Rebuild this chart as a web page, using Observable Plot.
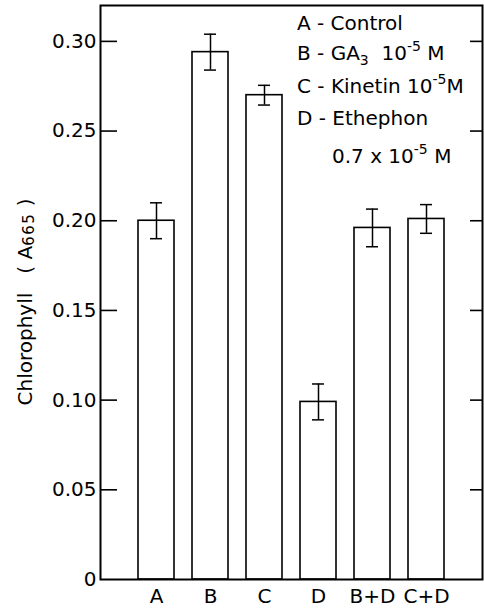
<!DOCTYPE html>
<html>
<head>
<meta charset="utf-8">
<script src="https://cdn.jsdelivr.net/npm/d3@7"></script>
<script src="https://cdn.jsdelivr.net/npm/@observablehq/plot@0.6"></script>
<style>
  html, body { margin: 0; padding: 0; background: white; }
  svg { display: block; }
</style>
</head>
<body>
<div id="chart"></div>
<script>
const categories = ["A", "B", "C", "D", "B+D", "C+D"];
const values = [0.200, 0.294, 0.270, 0.099, 0.196, 0.201];
const errors = [0.010, 0.010, 0.0055, 0.010, 0.0105, 0.008];
const yTicks = [0, 0.05, 0.10, 0.15, 0.20, 0.25, 0.30];
const yTickLabels = ["0", "0.05", "0.10", "0.15", "0.20", "0.25", "0.30"];
const yTitleMain = "Chlorophyll";
const yTitleSymbol = "A";
const yTitleSub = "665";
// legend lines: segments [text, kind] where kind is "n" normal, "sup" superscript, "sub" subscript
const legendLines = [
  [["A - Control", "n"]],
  [["B - GA", "n"], ["3", "sub"], ["  10", "n"], ["-5", "sup"], [" M", "n"]],
  [["C - Kinetin 10", "n"], ["-5", "sup"], ["M", "n"]],
  [["D - Ethephon", "n"]],
  [["0.7 x 10", "n"], ["-5", "sup"], [" M", "n"]]
];

const data = categories.map((c, i) => ({cat: c, value: values[i], err: errors[i]}));
const innerTicks = yTicks.filter(d => d > 0);

const chart = Plot.plot({
  width: 484,
  height: 613,
  marginLeft: 100,
  marginRight: 2,
  marginTop: 5,
  marginBottom: 34,
  style: {fontFamily: "DejaVu Sans", fontSize: "20px", color: "black", background: "white"},
  x: {domain: categories, paddingInner: 0.33, paddingOuter: 0.645, label: null},
  y: {domain: [0, 0.32], label: null},
  marks: [
    Plot.barY(data, {x: "cat", y: "value", fill: "white", stroke: "black", strokeWidth: 1.6}),
    Plot.ruleX(data, {x: "cat", y1: d => d.value - d.err, y2: d => d.value + d.err, stroke: "black", strokeWidth: 1.5}),
    Plot.tickY(data, {x: "cat", y: d => d.value + d.err, insetLeft: 12, insetRight: 12, stroke: "black", strokeWidth: 1.5}),
    Plot.tickY(data, {x: "cat", y: d => d.value - d.err, insetLeft: 12, insetRight: 12, stroke: "black", strokeWidth: 1.5}),
    Plot.tickY(innerTicks, {y: d => d, insetRight: 365, stroke: "black", strokeWidth: 1.6}),
    Plot.tickY(innerTicks, {y: d => d, insetLeft: 370, stroke: "black", strokeWidth: 1.6}),
    Plot.axisY({ticks: yTicks, tickFormat: d => yTickLabels[yTicks.indexOf(d)], tickSize: 0, tickPadding: 4, label: null, fontSize: 20}),
    Plot.axisX({tickSize: 0, tickPadding: 9, label: null, fontSize: 20}),
    Plot.frame({stroke: "black", strokeWidth: 2})
  ]
});

document.getElementById("chart").appendChild(chart);

const svg = d3.select(chart);

// Y-axis title (rotated) with subscript
const yt = svg.append("text")
  .attr("transform", "translate(32,302) rotate(-90)")
  .attr("text-anchor", "middle")
  .attr("font-family", "DejaVu Sans")
  .attr("font-size", 20)
  .attr("fill", "black")
  .attr("xml:space", "preserve")
  .style("white-space", "pre");
yt.append("tspan").text(yTitleMain + "   ( ");
yt.append("tspan").text(yTitleSymbol);
yt.append("tspan").attr("font-size", 15).attr("dy", 2).attr("letter-spacing", 1.5).text(yTitleSub);
yt.append("tspan").attr("dy", -2).text(" )");

// Legend
const legendX = [297, 297, 297, 297, 332];
const legendY = [30, 60, 93, 125, 163];
legendLines.forEach((segs, i) => {
  const t = svg.append("text")
    .attr("x", legendX[i])
    .attr("y", legendY[i])
    .attr("text-anchor", "start")
    .attr("font-family", "DejaVu Sans")
    .attr("font-size", 20)
    .attr("fill", "black")
    .attr("xml:space", "preserve")
    .style("white-space", "pre");
  let shift = 0;
  segs.forEach(([txt, kind]) => {
    const target = kind === "sup" ? -9 : kind === "sub" ? 5 : 0;
    const sp = t.append("tspan").attr("dy", target - shift).text(txt);
    if (kind !== "n") sp.attr("font-size", 14);
    shift = target;
  });
});
</script>
</body>
</html>
